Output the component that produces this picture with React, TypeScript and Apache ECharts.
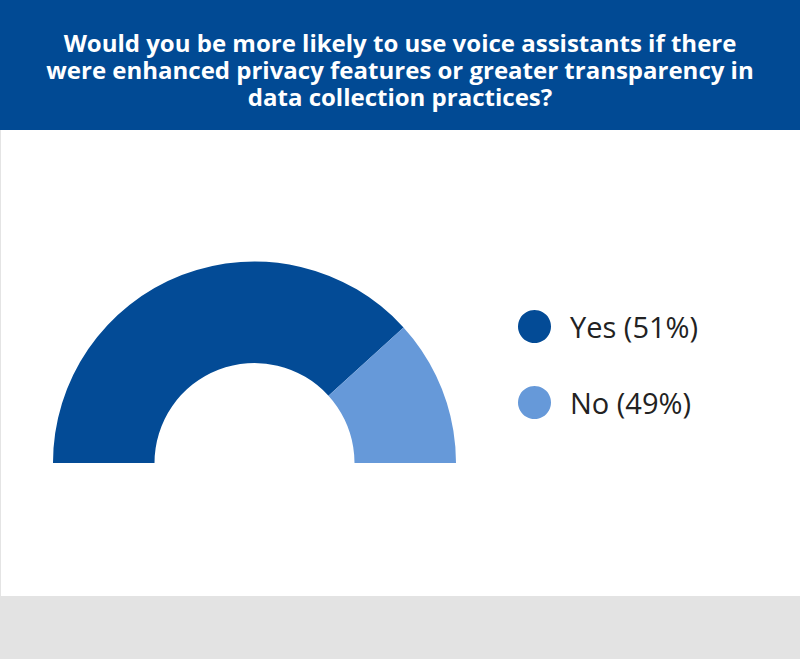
import React, { useEffect, useRef } from "react";
import * as echarts from "echarts";

const titleLines = [
  "Would you be more likely to use voice assistants if there",
  "were enhanced privacy features or greater transparency in",
  "data collection practices?",
];
const categories = ["Yes", "No"];
const percentages = [51, 49];
const colors = ["#034b96", "#6699d9"];

export default function App() {
  const ref = useRef<HTMLDivElement>(null);
  useEffect(() => {
    document.body.style.margin = "0";
    if (!ref.current) return;
    const chart = echarts.init(ref.current, undefined, { renderer: "svg" });
    const cx = 254.5;
    const cy = 463;
    chart.setOption({
      animation: false,
      backgroundColor: "#ffffff",
      legend: {
        orient: "vertical",
        left: 513,
        top: 305,
        itemWidth: 33,
        itemHeight: 33,
        itemGap: 43,
        icon: "circle",
        selectedMode: false,
        data: categories,
        formatter: (name: string) => {
          const i = categories.indexOf(name);
          return `${name} (${percentages[i]}%)`;
        },
        textStyle: {
          color: "#222222",
          fontFamily: "Open Sans",
          fontSize: 29,
          lineHeight: 33,
          padding: [0, 0, 0, 14],
        },
      },
      graphic: [
        {
          type: "rect",
          z: 10,
          silent: true,
          shape: { x: 0, y: 0, width: 800, height: 130 },
          style: { fill: "#014a94" },
        },
        {
          type: "text",
          z: 12,
          silent: true,
          x: 400,
          y: 29,
          style: {
            text: titleLines.join("\n"),
            align: "center",
            verticalAlign: "top",
            fill: "#ffffff",
            fontFamily: "Open Sans",
            fontWeight: "bold",
            fontSize: 24,
            lineHeight: 27,
          },
        },
        {
          type: "rect",
          z: 10,
          silent: true,
          shape: { x: cx - 3, y: cy, width: 265, height: 140 },
          style: { fill: "#ffffff" },
        },
        {
          type: "line",
          z: 10,
          silent: true,
          shape: { x1: 0.5, y1: 130, x2: 0.5, y2: 596 },
          style: { stroke: "#e4e4e4", lineWidth: 1 },
        },
        {
          type: "rect",
          z: 11,
          silent: true,
          shape: { x: 0, y: 596, width: 800, height: 63 },
          style: { fill: "#e3e3e3" },
        },
      ],
      series: [
        {
          type: "pie",
          center: [cx, cy],
          radius: [100, 201.5],
          startAngle: 180,
          endAngle: -90,
          clockwise: true,
          silent: true,
          label: { show: false },
          labelLine: { show: false },
          itemStyle: { borderWidth: 0 },
          emphasis: { disabled: true },
          data: categories.map((name, i) => ({
            name,
            value: percentages[i],
            itemStyle: { color: colors[i] },
          })),
        },
      ],
    });
    return () => chart.dispose();
  }, []);
  return <div ref={ref} style={{ width: 800, height: 659 }} />;
}
